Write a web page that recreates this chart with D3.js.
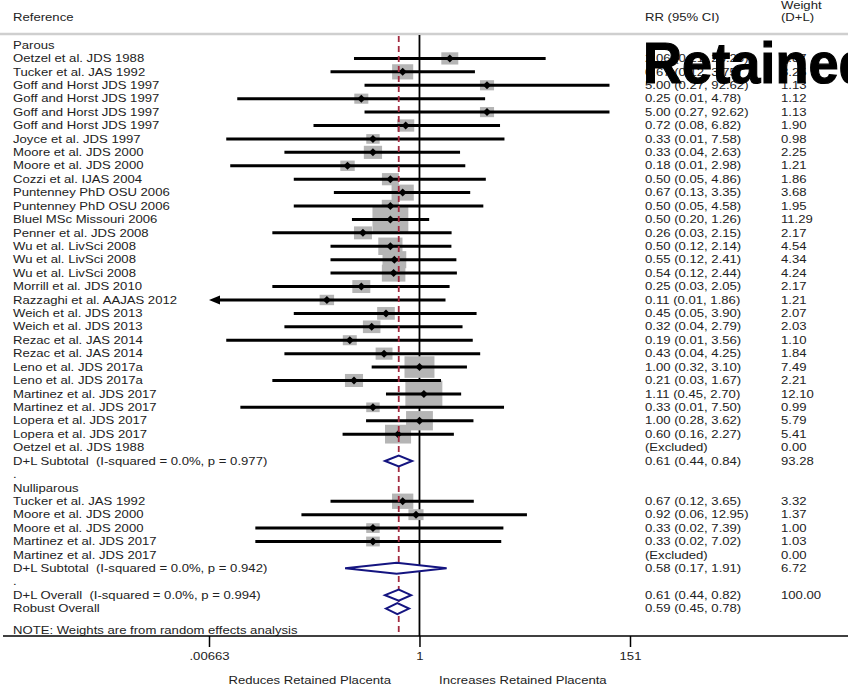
<!DOCTYPE html>
<html><head><meta charset="utf-8">
<script src="https://cdn.jsdelivr.net/npm/d3@7"></script>
<style>
body{margin:0;background:#fff;}
text{font-family:"Liberation Sans",Arial,Helvetica,sans-serif;white-space:pre;}
</style>
</head><body>
<svg id="chart" width="848" height="687"></svg>
<script>
// ---------------- data ----------------
const parousStudies = ["Oetzel et al. JDS 1988","Tucker et al. JAS 1992","Goff and Horst JDS 1997","Goff and Horst JDS 1997","Goff and Horst JDS 1997","Goff and Horst JDS 1997","Joyce et al. JDS 1997","Moore et al. JDS 2000","Moore et al. JDS 2000","Cozzi et al. IJAS 2004","Puntenney PhD OSU 2006","Puntenney PhD OSU 2006","Bluel MSc Missouri 2006","Penner et al. JDS 2008","Wu et al. LivSci 2008","Wu et al. LivSci 2008","Wu et al. LivSci 2008","Morrill et al. JDS 2010","Razzaghi et al. AAJAS 2012","Weich et al. JDS 2013","Weich et al. JDS 2013","Rezac et al. JAS 2014","Rezac et al. JAS 2014","Leno et al. JDS 2017a","Leno et al. JDS 2017a","Martinez et al. JDS 2017","Martinez et al. JDS 2017","Lopera et al. JDS 2017","Lopera et al. JDS 2017","Oetzel et al. JDS 1988"];
const parousRR = [2.06,0.67,5.00,0.25,5.00,0.72,0.33,0.33,0.18,0.50,0.67,0.50,0.50,0.26,0.50,0.55,0.54,0.25,0.11,0.45,0.32,0.19,0.43,1.00,0.21,1.11,0.33,1.00,0.60,null];
const parousLo = [0.21,0.12,0.27,0.013,0.27,0.08,0.01,0.04,0.011,0.05,0.13,0.05,0.20,0.03,0.12,0.12,0.12,0.03,0.006,0.05,0.04,0.01,0.04,0.32,0.03,0.45,0.014,0.28,0.16,null];
const parousHi = [20.23,3.75,92.62,4.78,92.62,6.82,7.58,2.63,2.98,4.86,3.35,4.58,1.26,2.15,2.14,2.41,2.44,2.05,1.86,3.90,2.79,3.56,4.25,3.10,1.67,2.70,7.50,3.62,2.27,null];
const parousWeight = [1.87,3.25,1.13,1.12,1.13,1.90,0.98,2.25,1.21,1.86,3.68,1.95,11.29,2.17,4.54,4.34,4.24,2.17,1.21,2.07,2.03,1.10,1.84,7.49,2.21,12.10,0.99,5.79,5.41,0.00];
const parousSubtotal = {label:"D+L Subtotal  (I-squared = 0.0%, p = 0.977)", rr:0.61, lo:0.44, hi:0.84, w:93.28};

const nulliStudies = ["Tucker et al. JAS 1992","Moore et al. JDS 2000","Moore et al. JDS 2000","Martinez et al. JDS 2017","Martinez et al. JDS 2017"];
const nulliRR = [0.67,0.92,0.33,0.33,null];
const nulliLo = [0.12,0.06,0.02,0.02,null];
const nulliHi = [3.65,12.95,7.39,7.02,null];
const nulliWeight = [3.32,1.37,1.00,1.03,0.00];
const nulliSubtotal = {label:"D+L Subtotal  (I-squared = 0.0%, p = 0.942)", rr:0.58, lo:0.17, hi:1.91, w:6.72};

const overall = {label:"D+L Overall  (I-squared = 0.0%, p = 0.994)", rr:0.61, lo:0.44, hi:0.82, w:100.00};
const robust = {label:"Robust Overall", rr:0.59, lo:0.45, hi:0.78, w:null};

const tickValues = [0.00663, 1, 151];
const tickLabels = [".00663", "1", "151"];

// ---------------- layout ----------------
const svg = d3.select("#chart");
const FS = 10.5, SX = 1.25, TXT = "#222";
const x = d3.scaleLog().domain([0.00663, 151]).range([209, 630]);
const axisY = 636, topY = 34;

const rows = [];
rows.push({type:"head", label:"Parous"});
parousStudies.forEach((s,i)=>rows.push({type:"study", label:s, rr:parousRR[i], lo:parousLo[i], hi:parousHi[i], w:parousWeight[i]}));
rows.push(Object.assign({type:"pool"}, parousSubtotal));
rows.push({type:"dot", label:"."});
rows.push({type:"head", label:"Nulliparous"});
nulliStudies.forEach((s,i)=>rows.push({type:"study", label:s, rr:nulliRR[i], lo:nulliLo[i], hi:nulliHi[i], w:nulliWeight[i]}));
rows.push(Object.assign({type:"pool"}, nulliSubtotal));
rows.push({type:"dot", label:"."});
rows.push(Object.assign({type:"pool"}, overall));
rows.push(Object.assign({type:"pool"}, robust));

const y = d3.scaleLinear().domain([0, rows.length-1]).range([45, 608.6]);
const boxSize = d3.scaleSqrt().domain([0, 12.1]).range([4, 37]);

function addText(g, tx, ty, str, anchor){
  return g.append("text")
    .attr("transform", `translate(${tx},${ty}) scale(${SX},1)`)
    .attr("dy","0.35em")
    .attr("font-size", FS)
    .attr("fill", TXT)
    .attr("text-anchor", anchor||"start")
    .text(str);
}

// header
const hdr = svg.append("g");
addText(hdr, 13, 17, "Reference");
addText(hdr, 645, 17, "RR (95% CI)");
addText(hdr, 781, 5, "Weight");
addText(hdr, 781, 17, "(D+L)");
svg.append("line").attr("x1",0).attr("x2",848).attr("y1",topY).attr("y2",topY)
  .attr("stroke","#cfcfcf").attr("stroke-width",2.5);

// reference line at 1
svg.append("line").attr("x1",x(1)).attr("x2",x(1)).attr("y1",topY+1).attr("y2",axisY)
  .attr("stroke","#000").attr("stroke-width",1.8);

// studies: boxes, lines, markers
const marks = svg.append("g");
rows.forEach((r,i)=>{
  if(r.type!=="study" || r.rr==null || !r.w) return;
  const cy = y(i), s = boxSize(r.w), h = s*0.72;
  marks.append("rect").attr("x", x(r.rr)-s/2).attr("y", cy-h/2).attr("width", s).attr("height", h)
    .attr("fill","#b5b5b5");
});
rows.forEach((r,i)=>{
  if(r.type!=="study" || r.rr==null || !r.w) return;
  const cy = y(i);
  const [d0,d1] = x.domain();
  const clippedLo = r.lo < d0;
  const xl = x(Math.max(r.lo,d0)), xh = x(Math.min(r.hi,d1));
  marks.append("line").attr("x1", clippedLo? xl+8 : xl).attr("x2", xh).attr("y1",cy).attr("y2",cy)
    .attr("stroke","#000").attr("stroke-width",3);
  if(clippedLo){
    marks.append("path").attr("d", `M${xl},${cy} L${xl+11},${cy-4.5} L${xl+11},${cy+4.5} Z`).attr("fill","#000");
  }
  const mx = x(r.rr), m = 4;
  marks.append("path").attr("d", `M${mx-m},${cy} L${mx},${cy-m} L${mx+m},${cy} L${mx},${cy+m} Z`).attr("fill","#000");
});

// overall dashed line
svg.append("line").attr("x1",x(overall.rr)).attr("x2",x(overall.rr)).attr("y1",topY+2).attr("y2",axisY)
  .attr("stroke","#a3293f").attr("stroke-width",1.8).attr("stroke-dasharray","6,4");

// pooled diamonds
rows.forEach((r,i)=>{
  if(r.type!=="pool") return;
  const cy = y(i), hh = 5.5;
  svg.append("path")
    .attr("d", `M${x(r.lo)},${cy} L${x(r.rr)},${cy-hh} L${x(r.hi)},${cy} L${x(r.rr)},${cy+hh} Z`)
    .attr("fill","#fff").attr("stroke","#141480").attr("stroke-width",2);
});

// row texts
const tg = svg.append("g");
rows.forEach((r,i)=>{
  const cy = y(i);
  addText(tg, 13, cy, r.label);
  if(r.type==="study" || r.type==="pool"){
    const ci = r.rr==null ? "(Excluded)" : `${r.rr.toFixed(2)} (${r.lo.toFixed(2)}, ${r.hi.toFixed(2)})`;
    addText(tg, 645, cy, ci);
    if(r.w!=null) addText(tg, 781, cy, r.w.toFixed(2));
  }
});
addText(tg, 13, 630, "NOTE: Weights are from random effects analysis");

// axis
svg.append("line").attr("x1",3).attr("x2",848).attr("y1",axisY).attr("y2",axisY)
  .attr("stroke","#000").attr("stroke-width",1.5);
const axis = d3.axisBottom(x).tickValues(tickValues)
  .tickFormat((d,i)=>tickLabels[i]).tickSize(11).tickPadding(6);
const ag = svg.append("g").attr("transform",`translate(0,${axisY})`).call(axis);
ag.select(".domain").remove();
ag.selectAll(".tick line").attr("stroke","#000").attr("stroke-width",1.5);
ag.selectAll(".tick text").attr("font-size",FS).attr("fill",TXT)
  .attr("font-family","Liberation Sans, Arial, sans-serif").attr("transform",`scale(${SX},1)`);

addText(svg, 391, 680, "Reduces Retained Placenta", "end");
addText(svg, 439, 680, "Increases Retained Placenta", "start");

// overlay word
svg.append("text").attr("transform","translate(643,83) scale(0.95,1)")
  .attr("font-family","'Liberation Sans', Arial, sans-serif")
  .attr("font-weight","bold").attr("font-size",57).attr("fill","#000")
  .attr("stroke","#000").attr("stroke-width",1.2)
  .text("Retained");
</script>
</body></html>
